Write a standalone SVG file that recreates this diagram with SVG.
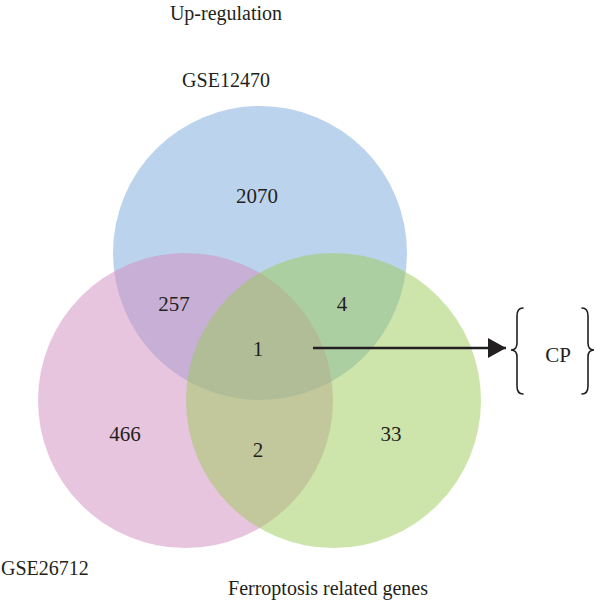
<svg xmlns="http://www.w3.org/2000/svg" width="600" height="600" viewBox="0 0 600 600">
  <style>
    text { font-family: "Liberation Serif", "Times New Roman", serif; font-size: 20px; fill: #231f20; text-anchor: middle; }
    .num { font-size: 21px; }
    .set { stroke: none; }
    .brace { fill: none; stroke: #231f20; stroke-width: 1.6; stroke-linecap: round; }
  </style>
  <defs>
    <marker id="arrow" viewBox="0 0 18 20" refX="18" refY="10" markerWidth="18" markerHeight="20" markerUnits="userSpaceOnUse" orient="auto">
      <path d="M0,0 L18,10 L0,20 Z" fill="#231f20"/>
    </marker>
  </defs>
  <rect width="600" height="600" fill="#ffffff"/>
  <text x="226" y="20">Up-regulation</text>
  <g id="set-gse12470">
    <circle class="set" cx="260" cy="253" r="147" fill="#7aa7dc" fill-opacity="0.5"/>
    <text x="226" y="87">GSE12470</text>
  </g>
  <g id="set-gse26712">
    <circle class="set" cx="185.5" cy="400.5" r="147.5" fill="#d28bbf" fill-opacity="0.5"/>
    <text x="1" y="575" style="text-anchor:start">GSE26712</text>
  </g>
  <g id="set-ferroptosis">
    <circle class="set" cx="333.5" cy="400.5" r="147.5" fill="#9ccb57" fill-opacity="0.5"/>
    <text x="328" y="595">Ferroptosis related genes</text>
  </g>
  <g id="counts">
    <text class="num" x="257" y="203">2070</text>
    <text class="num" x="174" y="311">257</text>
    <text class="num" x="342" y="311">4</text>
    <text class="num" x="258" y="356">1</text>
    <text class="num" x="125" y="441">466</text>
    <text class="num" x="391" y="441">33</text>
    <text class="num" x="258" y="457">2</text>
  </g>
  <g id="connectors">
    <line x1="313" y1="348" x2="506" y2="348" stroke="#231f20" stroke-width="2.6" marker-end="url(#arrow)"/>
  </g>
  <g id="cp">
    <path class="brace" d="M523,308 Q517,308 517,316 L517,343 Q517,350 511,350 Q517,350 517,357 L517,386 Q517,394 523,394"/>
    <path class="brace" d="M582,308 Q588,308 588,316 L588,343 Q588,350 594,350 Q588,350 588,357 L588,386 Q588,394 582,394"/>
    <text class="num" x="558" y="362">CP</text>
  </g>
</svg>
